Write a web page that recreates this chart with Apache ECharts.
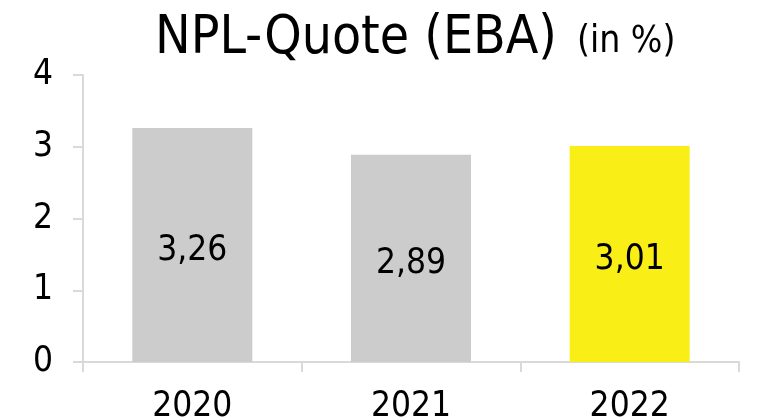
<!DOCTYPE html>
<html>
<head>
<meta charset="utf-8">
<script src="https://cdn.jsdelivr.net/npm/echarts@6/dist/echarts.min.js"></script>
<style>
  html, body { margin: 0; padding: 0; background: #fff; }
  #chart { width: 770px; height: 420px; }
</style>
</head>
<body>
<div id="chart"></div>
<script>
var years = ['2020', '2021', '2022']
var nplValues = [3.26, 2.89, 3.01]
var barColors = ['#cccccc', '#cccccc', '#f9ee16']
var fontFamily = '"DejaVu Sans Condensed", "DejaVu Sans", sans-serif'

var chart = echarts.init(document.getElementById('chart'))

var option = {
  animation: false,
  title: {
    text: '{a|NPL-Quote (EBA)}{b|(in %)}',
    left: 150,
    top: 8,
    textStyle: {
      rich: {
        a: { fontSize: 53, color: '#000', fontWeight: 'normal', fontFamily: fontFamily, verticalAlign: 'bottom' },
        b: { fontSize: 37, color: '#000', fontWeight: 'normal', fontFamily: fontFamily, verticalAlign: 'bottom', padding: [0, 0, 5, 20] }
      }
    }
  },
  grid: {
    left: 83,
    right: 31,
    top: 75,
    bottom: 58,
    containLabel: false,
    outerBoundsMode: 'none'
  },
  xAxis: {
    type: 'category',
    data: years,
    axisLine: { lineStyle: { color: '#d9d9d9', width: 2 } },
    axisTick: { show: true, length: 10, lineStyle: { color: '#d9d9d9', width: 2 } },
    axisLabel: { color: '#000', fontSize: 35, fontFamily: fontFamily, margin: 27 }
  },
  yAxis: {
    type: 'value',
    min: 0,
    max: 4,
    interval: 1,
    axisLine: { show: true, lineStyle: { color: '#d9d9d9', width: 2 } },
    axisTick: { show: true, length: 10, lineStyle: { color: '#d9d9d9', width: 2 } },
    splitLine: { show: false },
    axisLabel: { color: '#000', fontSize: 35, fontFamily: fontFamily, margin: 30 }
  },
  series: [
    {
      type: 'bar',
      barWidth: 120,
      data: nplValues.map(function (v, i) {
        return { value: v, itemStyle: { color: barColors[i] } }
      }),
      label: {
        show: true,
        position: 'inside',
        offset: [0, 6],
        color: '#000',
        fontSize: 35,
        fontFamily: fontFamily,
        formatter: function (p) {
          return p.value.toFixed(2).replace('.', ',')
        }
      }
    }
  ]
}

chart.setOption(option)
</script>
</body>
</html>
